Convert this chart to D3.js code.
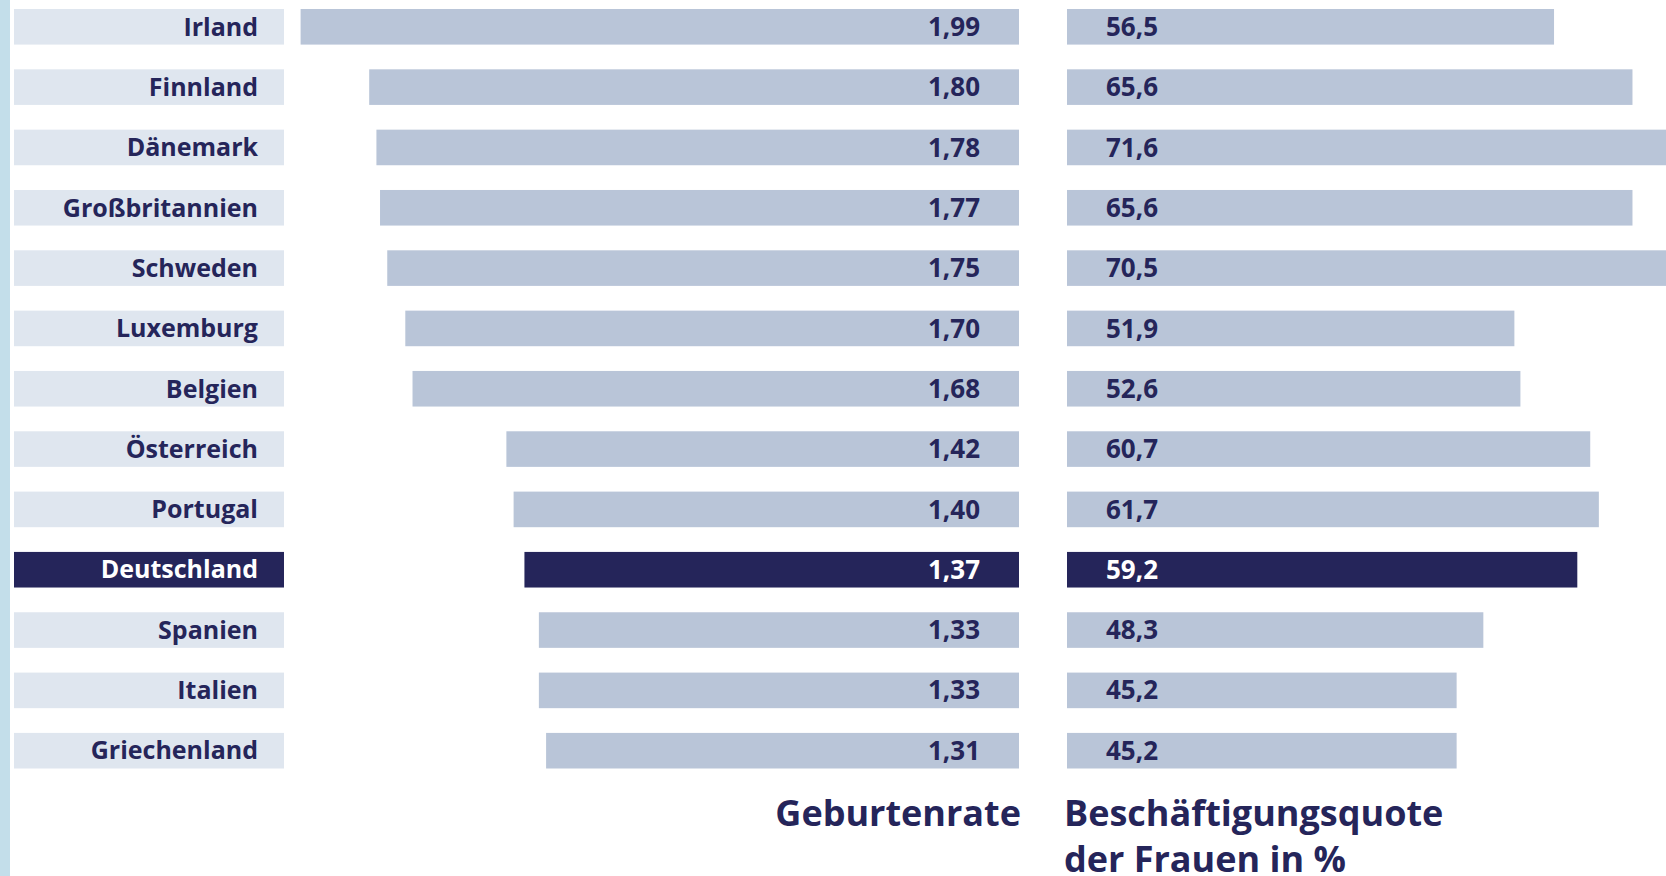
<!DOCTYPE html>
<html>
<head>
<meta charset="utf-8">
<script src="https://cdn.jsdelivr.net/npm/d3@7"></script>
<style>
  body { margin: 0; background: #fff; }
  svg { display: block; font-family: "Open Sans", sans-serif; font-weight: 700; }
</style>
</head>
<body>
<svg id="chart"></svg>
<script>
// data
let countries = ["Irland", "Finnland", "Dänemark", "Großbritannien", "Schweden", "Luxemburg",
  "Belgien", "Österreich", "Portugal", "Deutschland", "Spanien", "Italien", "Griechenland"];
let birthRate = [1.99, 1.80, 1.78, 1.77, 1.75, 1.70, 1.68, 1.42, 1.40, 1.37, 1.33, 1.33, 1.31];
let employment = [56.5, 65.6, 71.6, 65.6, 70.5, 51.9, 52.6, 60.7, 61.7, 59.2, 48.3, 45.2, 45.2];
let highlight = "Deutschland";
let titleLeft = "Geburtenrate";
let titleRight = ["Beschäftigungsquote", "der Frauen in %"];

let width = 1666;
let height = 876;

let navy = "#25255a";
let barColor = "#b9c5d8";
let labelBg = "#dfe6ef";

let fmt = (v, d) => v.toFixed(d).replace(".", ",");

let svg = d3.select("#chart").attr("width", width).attr("height", height);

// thin blue stripe at the left edge
svg.append("rect").attr("x", 0).attr("y", 0).attr("width", 10).attr("height", height)
  .attr("fill", "#c3deea");

let y = d3.scaleBand().domain(countries).range([9, 768.5]).paddingInner(0.41).paddingOuter(0);

// birth rate grows leftward from a common right edge
let xL = d3.scaleLinear().domain([0, 2]).range([1019, 297]);
// employment grows rightward
let xR = d3.scaleLinear().domain([0, 70]).range([1067, 1670.4]);

let rows = countries.map((c, i) => ({ name: c, birth: birthRate[i], emp: employment[i] }));

let row = svg.selectAll("g.row").data(rows).enter().append("g").attr("class", "row");

row.append("rect")
  .attr("x", 14).attr("width", 270)
  .attr("y", (d) => y(d.name)).attr("height", y.bandwidth())
  .attr("fill", (d) => (d.name == highlight ? navy : labelBg));

row.append("text")
  .attr("x", 258)
  .attr("y", (d) => y(d.name) + y.bandwidth() / 2)
  .attr("dy", "0.35em")
  .attr("text-anchor", "end")
  .attr("font-size", 25)
  .attr("fill", (d) => (d.name == highlight ? "#fff" : navy))
  .text((d) => d.name);

row.append("rect")
  .attr("x", (d) => xL(d.birth))
  .attr("width", (d) => xL(0) - xL(d.birth))
  .attr("y", (d) => y(d.name)).attr("height", y.bandwidth())
  .attr("fill", (d) => (d.name == highlight ? navy : barColor));

row.append("text")
  .attr("x", xL(0) - 39)
  .attr("y", (d) => y(d.name) + y.bandwidth() / 2)
  .attr("dy", "0.35em")
  .attr("text-anchor", "end")
  .attr("font-size", 26)
  .attr("fill", (d) => (d.name == highlight ? "#fff" : navy))
  .text((d) => fmt(d.birth, 2));

row.append("rect")
  .attr("x", xR(0))
  .attr("width", (d) => xR(d.emp) - xR(0))
  .attr("y", (d) => y(d.name)).attr("height", y.bandwidth())
  .attr("fill", (d) => (d.name == highlight ? navy : barColor));

row.append("text")
  .attr("x", xR(0) + 39)
  .attr("y", (d) => y(d.name) + y.bandwidth() / 2)
  .attr("dy", "0.35em")
  .attr("font-size", 26)
  .attr("fill", (d) => (d.name == highlight ? "#fff" : navy))
  .text((d) => fmt(d.emp, 1));

// titles under the two bar groups
svg.append("text")
  .attr("x", xL(0) + 2).attr("y", 826)
  .attr("text-anchor", "end")
  .attr("font-size", 36)
  .attr("fill", navy)
  .text(titleLeft);

svg.append("text")
  .attr("x", xR(0) - 3).attr("y", 826)
  .attr("font-size", 36)
  .attr("fill", navy)
  .selectAll("tspan")
  .data(titleRight)
  .enter()
  .append("tspan")
  .attr("x", xR(0) - 3)
  .attr("dy", (d, i) => (i == 0 ? 0 : 46))
  .text((d) => d);
</script>
</body>
</html>
